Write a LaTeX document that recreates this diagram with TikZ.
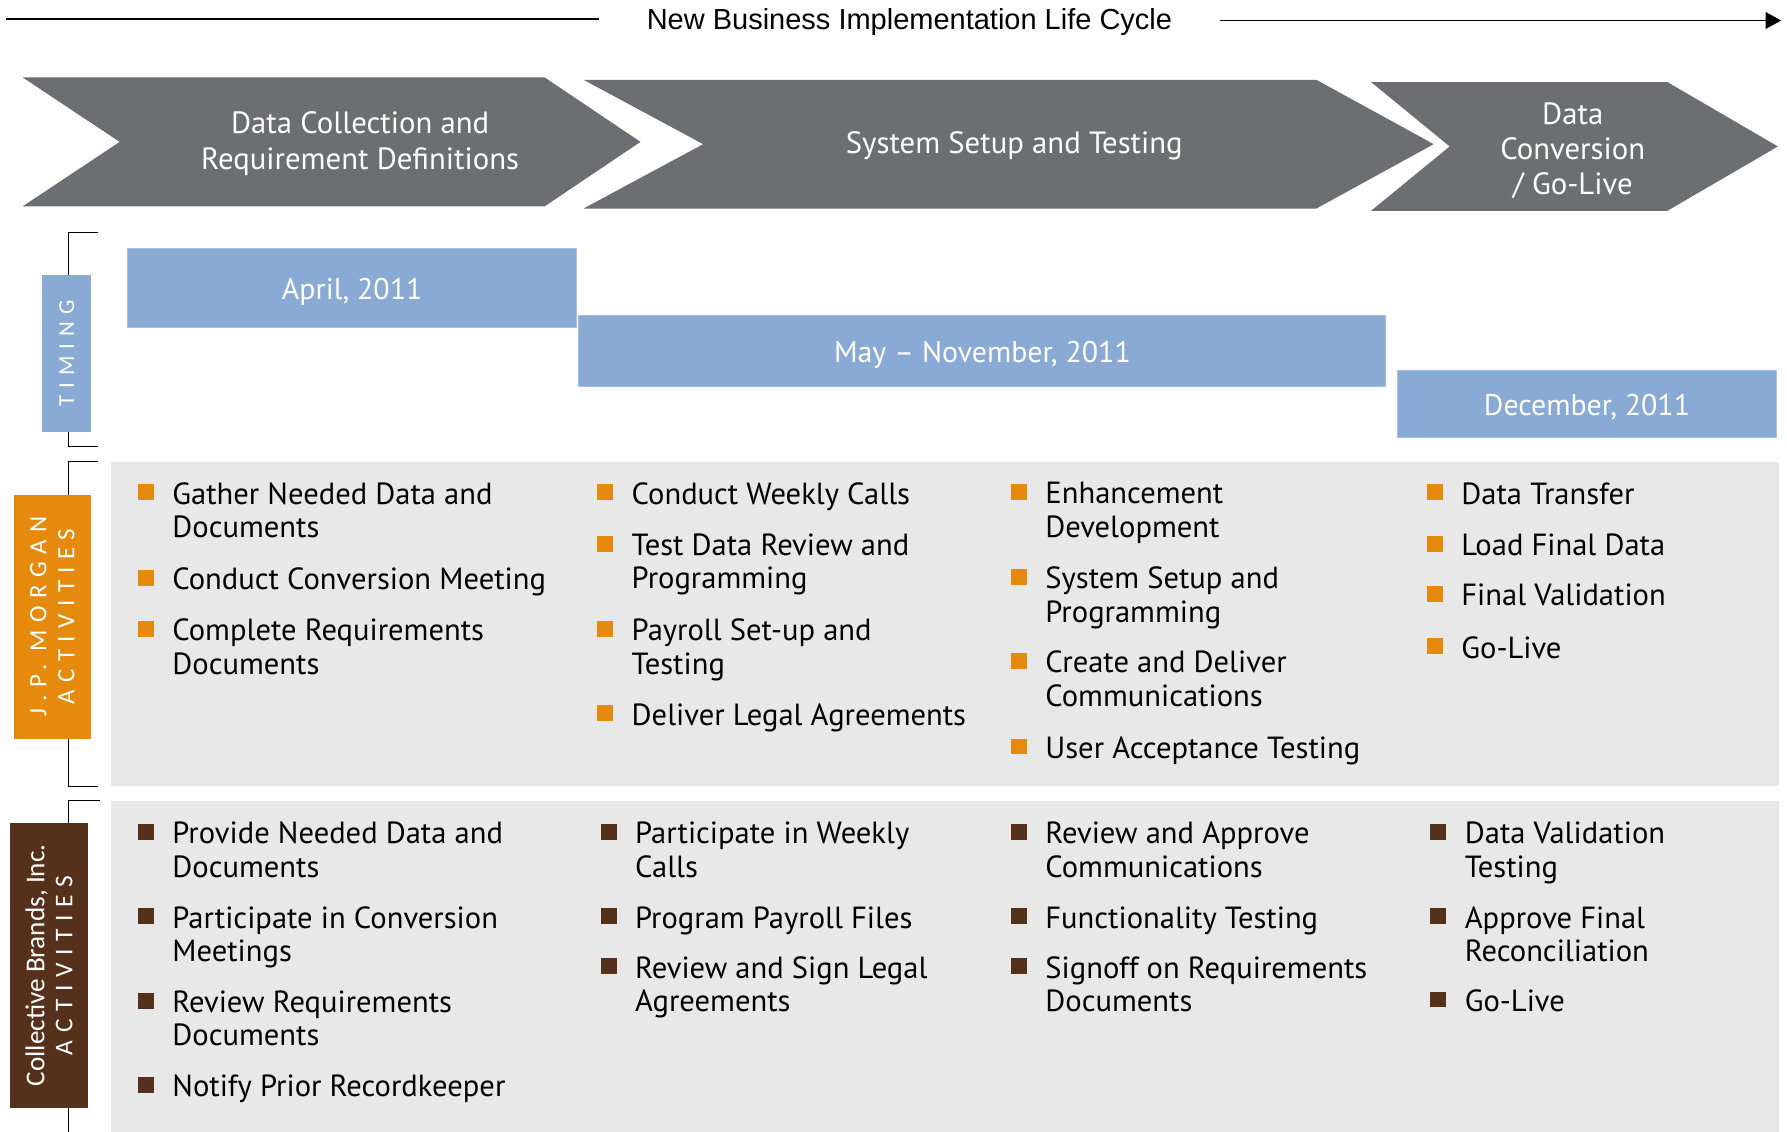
\documentclass[tikz,border=0pt]{standalone}
\usepackage{fontspec}
\setmainfont{PT Sans}
\newfontfamily\titlefont{Liberation Sans}
\newfontfamily\sidefont{Carlito}
\newfontfamily\sidespaced{Carlito}[LetterSpace=30]
\usetikzlibrary{arrows.meta}

\definecolor{phasegray}{HTML}{6D6E71}
\definecolor{timeblue}{HTML}{88AAD5}
\definecolor{jporange}{HTML}{E68A0E}
\definecolor{cbbrown}{HTML}{55311B}
\definecolor{panelgray}{HTML}{E8E8E8}

\newcommand\ux{0.0228cm}

\begin{document}
\begin{tikzpicture}[x=\ux, y=-\ux,
    phase/.style={fill=phasegray},
    phasetext/.style={text=white, align=center, font=\fontsize{17.5}{20}\selectfont},
    timebar/.style={fill=timeblue, draw=timeblue!75!white, line width=0.6pt, text=white, inner sep=0,
                    text height=1.45em, text depth=0.15em, font=\fontsize{17}{20}\selectfont},
    sidebox/.style={rotate=90, text=white, align=center, inner sep=0},
    bracket/.style={black, line width=0.6pt},
    panel/.style={fill=panelgray},
    item/.style={anchor=north west, align=left, inner sep=0, font=\fontsize{17.4}{19.1}\selectfont},
    jpmark/.style={fill=jporange, inner sep=0, minimum size=14*\ux},
    cbmark/.style={fill=cbbrown, inner sep=0, minimum size=14*\ux}]
  \useasboundingbox (0,0) rectangle (1568,993);

  % life cycle arrow along the top
  \node[font=\titlefont\fontsize{16.5}{19}\selectfont, inner xsep=42*\ux] (title) at (798,19) {New Business Implementation Life Cycle};
  \coordinate (lcstart) at (5,17);
  \coordinate (lcend) at (1563,18);
  \draw[line width=1.1pt] (lcstart) -- (title.west |- lcstart);
  \draw[line width=1.1pt, -{Triangle[length=9pt, width=9.5pt]}] (title.east |- lcend) -- (lcend);

  % the three phases
  \fill[phase] (20,68) -- (478,68) -- (562,124.5) -- (478,181) -- (20,181) -- (105,124.5) -- cycle;
  \fill[phase] (512,70) -- (1155,70) -- (1258,126.5) -- (1155,183) -- (512,183) -- (617,126.5) -- cycle;
  \fill[phase] (1203,72) -- (1463,72) -- (1560,128.5) -- (1463,185) -- (1203,185) -- (1272,128.5) -- cycle;
  \node[phasetext] (phase1) at (316,126) {Data Collection and\\Requirement Definitions};
  \node[phasetext] (phase2) at (890,128) {System Setup and Testing};
  \node[phasetext] (phase3) at (1380,132) {Data\\Conversion\\/ Go-Live};

  % brackets behind the row labels
  \draw[bracket] (86,204) -- (60,204) -- (60,392) -- (86,392);
  \draw[bracket] (86,405) -- (60,405) -- (60,690) -- (86,690);
  \draw[bracket] (88,702) -- (60,702) -- (60,993);

  % row labels
  \node[sidebox, fill=timeblue, minimum width=138*\ux, minimum height=43*\ux,
        font=\sidespaced\fontsize{13}{15}\selectfont] (timing) at (58.5,310) {TIMING};
  \node[sidebox, fill=jporange, minimum width=214*\ux, minimum height=68*\ux,
        font=\sidespaced\fontsize{14.2}{16}\selectfont] (jplabel) at (46,541) {J.P. MORGAN\\ACTIVITIES};
  \node[sidebox, fill=cbbrown, minimum width=250*\ux, minimum height=68*\ux,
        font=\sidefont\fontsize{15.5}{16}\selectfont] (cblabel) at (43,847)
        {Collective Brands, Inc.\\{\sidespaced\fontsize{14.5}{16}\selectfont ACTIVITIES}};

  % timing bars
  \node[timebar, minimum width=394*\ux, minimum height=69*\ux] (april) at (309,252.5) {April, 2011};
  \node[timebar, minimum width=708*\ux, minimum height=62*\ux] (maynov) at (862,308) {May -- November, 2011};
  \node[timebar, minimum width=333*\ux, minimum height=59*\ux] (december) at (1392.5,354.5) {December, 2011};

  % activity panels
  \fill[panel] (97,405) rectangle (1561,690);
  \fill[panel] (97,703) rectangle (1561,993);

  \foreach \x/\y/\t [count=\i] in {
      151/442/{Gather Needed Data and\\Documents},
      151/517/{Conduct Conversion Meeting},
      151/562/{Complete Requirements\\Documents},
      554/442/{Conduct Weekly Calls},
      554/487/{Test Data Review and\\Programming},
      554/562/{Payroll Set-up and\\Testing},
      554/636/{Deliver Legal Agreements},
      917/442/{Enhancement\\Development},
      917/516/{System Setup and\\Programming},
      917/590/{Create and Deliver\\Communications},
      917/665/{User Acceptance Testing},
      1282/442/{Data Transfer},
      1282/487/{Load Final Data},
      1282/531/{Final Validation},
      1282/577/{Go-Live}} {
    \node[jpmark] (jpm\i) at (\x-23,\y-10) {};
    \node[item] (jpt\i) at (\x,\y-19) {\t};
  }

  \foreach \x/\y/\t [count=\i] in {
      151/740/{Provide Needed Data and\\Documents},
      151/814/{Participate in Conversion\\Meetings},
      151/888/{Review Requirements\\Documents},
      151/962/{Notify Prior Recordkeeper},
      557/740/{Participate in Weekly\\Calls},
      557/814/{Program Payroll Files},
      557/858/{Review and Sign Legal\\Agreements},
      917/740/{Review and Approve\\Communications},
      917/814/{Functionality Testing},
      917/858/{Signoff on Requirements\\Documents},
      1285/740/{Data Validation\\Testing},
      1285/814/{Approve Final\\Reconciliation},
      1285/887/{Go-Live}} {
    \node[cbmark] (cbm\i) at (\x-23,\y-10) {};
    \node[item] (cbt\i) at (\x,\y-19) {\t};
  }
\end{tikzpicture}
\end{document}
